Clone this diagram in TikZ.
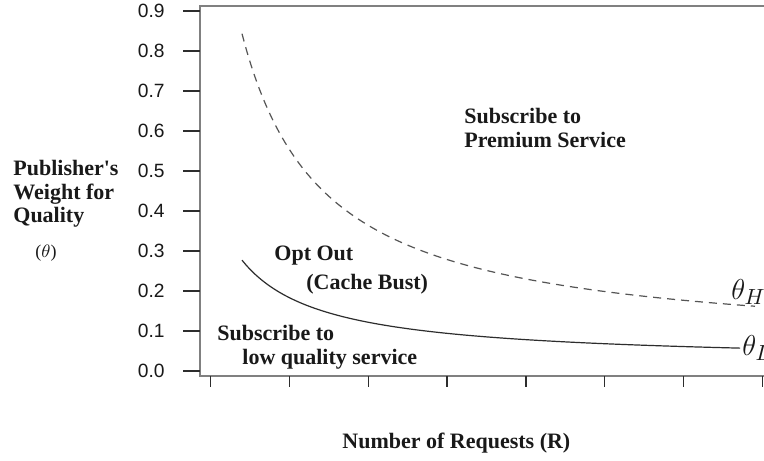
\documentclass[tikz,border=0pt]{standalone}
\usepackage{fontspec}
\setmainfont{Liberation Serif}
\newfontfamily\TickFont{Liberation Sans}
\usepackage{tikz}
\definecolor{ColFrame}{RGB}{128,128,128}
\definecolor{ColText}{RGB}{25,25,25}
\definecolor{ColCurve}{RGB}{45,45,45}
\definecolor{ColDash}{RGB}{85,85,85}
\tikzstyle{Frame}=[ColFrame,line width=1pt]
\tikzstyle{Tick}=[ColCurve,line width=0.7pt]
\tikzstyle{TickLabel}=[anchor=east,inner sep=0pt,text=ColText,
font=\TickFont\fontsize{9.6}{11}\selectfont]
\tikzstyle{Region}=[anchor=base west,inner sep=0pt,text=ColText,
font=\bfseries\fontsize{11}{13}\selectfont]
\tikzstyle{ThetaLabel}=[anchor=base west,inner sep=0pt,text=ColText,
font=\fontsize{15}{18}\selectfont]
\tikzstyle{CurveLow}=[ColCurve,line width=0.6pt]
\tikzstyle{CurveHigh}=[ColDash,line width=0.6pt,dash pattern=on 4pt off 3pt]

\begin{document}
\begin{tikzpicture}[x=0.5pt,y=-0.5pt]
        \useasboundingbox[fill=white](0,0)rectangle(764,460);
        % frame of the plot
        \draw[Frame](764,6)--(200,6)--(200,376)--(764,376);
        % axis ticks and numbers
        \foreach \i in {0,...,9}{
            \draw[Tick](183,371-40*\i)--(200,371-40*\i);
            \node[TickLabel](ytick\i)at(165,371-40*\i){0.\i};
        }
        \foreach \i in {0,...,7}
            \draw[Tick](210.7+78.8*\i,376)--++(0,11);
        % the two thresholds
        \draw[CurveHigh]plot[domain=242:755,samples=120,smooth]
            (\x,{371-400*(64.8/(\x-160)+0.053)});
        \draw[CurveLow]plot[domain=242:740,samples=120,smooth]
            (\x,{371-400*(21.0/(\x-160)+0.021)});
        \node[ThetaLabel](thetaH)at(731,299){$\theta_H$};
        \node[ThetaLabel](thetaL)at(742,355){$\theta_L$};
        % regions
        \node[Region](prem1)at(464,123){Subscribe to};
        \node[Region](prem2)at(464,147){Premium Service};
        \node[Region](opt1)at(274,260){Opt Out};
        \node[Region](opt2)at(306,289){(Cache Bust)};
        \node[Region](low1)at(217,340){Subscribe to};
        \node[Region](low2)at(242,364){low quality service};
        % axis titles
        \node[Region](ylab1)at(13,175){Publisher\textquotesingle s};
        \node[Region](ylab2)at(13,199){Weight for};
        \node[Region](ylab3)at(13,222){Quality};
        \node[anchor=center,inner sep=0pt,text=ColText,
            font=\fontsize{9}{10}\selectfont](ylab4)at(46,253){($\theta$)};
        \node[Region](xlab)at(342,448){Number of Requests (R)};
    \end{tikzpicture}
\end{document}
